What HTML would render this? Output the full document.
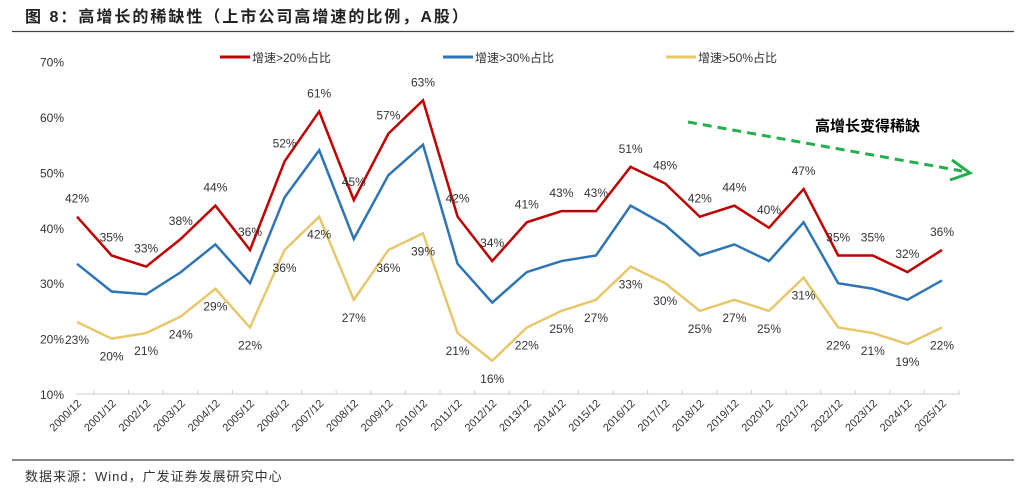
<!DOCTYPE html>
<html><head><meta charset="utf-8"><style>
body{margin:0;background:#fff;width:1024px;height:492px;overflow:hidden;font-family:"Liberation Sans","Noto Sans CJK SC",sans-serif}
</style></head><body>
<svg width="1024" height="492" font-family="Liberation Sans, Noto Sans CJK SC, sans-serif">
<text x="25" y="22" font-size="16" font-weight="bold" fill="#222" letter-spacing="2">图 8：高增长的稀缺性（上市公司高增速的比例，A股）</text>
<line x1="12" y1="31.5" x2="1014" y2="31.5" stroke="#444" stroke-width="1.2"/>
<line x1="12" y1="460" x2="1014" y2="460" stroke="#444" stroke-width="1.2"/>
<text x="25" y="481" font-size="13" fill="#333" letter-spacing="1">数据来源：Wind，广发证券发展研究中心</text>
<g id="axes"></g><g id="series"></g>
<g>
<line x1="220" y1="57" x2="250" y2="57" stroke="#c00000" stroke-width="3"/><text x="252" y="62" font-size="12" fill="#333">增速&gt;20%占比</text>
<line x1="443" y1="57" x2="473" y2="57" stroke="#2e75b6" stroke-width="3"/><text x="475" y="62" font-size="12" fill="#333">增速&gt;30%占比</text>
<line x1="666" y1="57" x2="696" y2="57" stroke="#e8c76a" stroke-width="3"/><text x="698" y="62" font-size="12" fill="#333">增速&gt;50%占比</text>
</g>
<line x1="688" y1="122" x2="962" y2="171" stroke="#22b04a" stroke-width="3" stroke-dasharray="9,6"/>
<polyline points="952,160 970,173 950,180" fill="none" stroke="#22b04a" stroke-width="3"/>
<text x="815" y="131" font-size="15" font-weight="bold" fill="#000">高增长变得稀缺</text>
</svg>
<script>
const years=["2000/12","2001/12","2002/12","2003/12","2004/12","2005/12","2006/12","2007/12","2008/12","2009/12","2010/12","2011/12","2012/12","2013/12","2014/12","2015/12","2016/12","2017/12","2018/12","2019/12","2020/12","2021/12","2022/12","2023/12","2024/12","2025/12"];
const s20=[42,35,33,38,44,36,52,61,45,57,63,42,34,41,43,43,51,48,42,44,40,47,35,35,32,36];
const s30=[33.5,28.5,28,32,37,30,45.5,54,38,49.5,55,33.5,26.5,32,34,35,44,40.5,35,37,34,41,30,29,27,30.5];
const s50=[23,20,21,24,29,22,36,42,27,36,39,21,16,22,25,27,33,30,25,27,25,31,22,21,19,22];
const yTicks=[10,20,30,40,50,60,70];
const NS="http://www.w3.org/2000/svg";
const x=i=>77+i*(942-77)/(years.length-1);
const y=v=>394-(v-10)*5.54;
function mk(t,a,p){const e=document.createElementNS(NS,t);for(const k in a)e.setAttribute(k,a[k]);p.appendChild(e);return e;}
const ax=document.getElementById('axes'),se=document.getElementById('series');
const base=mk('line',{x1:76,x2:960,y1:y(10),y2:y(10),stroke:'#ccc'},ax);


yTicks.forEach(v=>{const t=mk('text',{x:64,y:y(v)+5,'text-anchor':'end','font-size':12,fill:'#333'},ax);t.textContent=v+'%';

});
years.forEach((yr,i)=>{const X=x(i);mk('line',{x1:X+17,x2:X+17,y1:390,y2:394,stroke:'#ccc'},ax);
const t=mk('text',{x:X+5,y:404,'text-anchor':'end','font-size':11,fill:'#333',transform:`rotate(-45 ${X+5} 404)`},ax);t.textContent=yr;

});
function line(d,col,name,lab,off){const p=mk('polyline',{points:d.map((v,i)=>x(i)+','+y(v)).join(' '),fill:'none',stroke:col,'stroke-width':2.5},se);


if(lab)d.forEach((v,i)=>{const t=mk('text',{x:x(i),y:y(v)+off,'text-anchor':'middle','font-size':12,fill:'#333'},se);t.textContent=Math.round(v)+'%';

});}
line(s50,'#e8c76a','series-50',true,22);
line(s30,'#2e75b6','series-30',false,0);
line(s20,'#c00000','series-20',true,-14);
</script>
</body></html>
